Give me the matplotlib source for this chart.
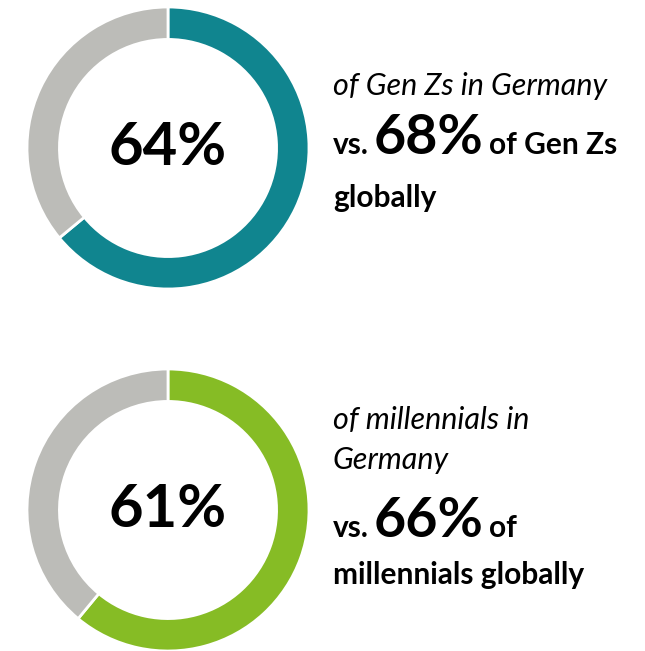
import matplotlib
matplotlib.use("Agg")
from matplotlib import pyplot as plt

W, H = 645, 651

# donut data (share in Germany, remainder)
groups = ["Gen Zs", "millennials"]
germany = [64, 61]
globally = [68, 66]
colors = ["#10858F", "#86BC25"]
rest_color = "#BCBCB8"

FONT = "Lato"


#converts pixel coords (y from top) to figure fraction
def px(x, y):
    return x / W, 1 - y / H


#places a run of text pieces one after another on a common baseline
def textRun(fig, x, y, pieces, gap=5):
    r = fig.canvas.get_renderer()
    for s, size, weight, style in pieces:
        t = fig.text(*px(x, y), s, fontsize=size, fontweight=weight, fontstyle=style,
                     family=FONT, ha="left", va="baseline")
        ext = t.get_window_extent(renderer=r)
        x = ext.x1 + gap


fig = plt.figure(figsize=(W / 100, H / 100), dpi=100)

# donut centres (pixels from top-left) and outer radius
centres = [(168, 148), (168, 510)]
R = 141

for i in range(2):
    cx, cy = centres[i]
    l, b = px(cx - R, cy + R)
    ax = fig.add_axes([l, b, 2 * R / W, 2 * R / H])
    ax.pie([germany[i], 100 - germany[i]], colors=[colors[i], rest_color],
           startangle=90, counterclock=False,
           wedgeprops=dict(width=0.23, edgecolor="white", linewidth=2))
    ax.set_xlim(-1.0, 1.0)
    ax.set_ylim(-1.0, 1.0)
    ax.set_aspect("equal")
    ax.axis("off")
    ax.text(0, 0, f"{germany[i]}%", ha="center", va="center", fontsize=43,
            fontweight="bold", family=FONT)

# right-hand captions
SM = 21.5
BIG = 40
textRun(fig, 333, 95, [("of Gen Zs in Germany", SM + 0.5, "normal", "italic")])
textRun(fig, 333, 154, [("vs.", SM, "bold", "normal"),
                        (f"{globally[0]}%", BIG, "bold", "normal"),
                        ("of Gen Zs", SM, "bold", "normal")])
textRun(fig, 333, 207, [("globally", SM, "bold", "normal")])

textRun(fig, 333, 429, [("of millennials in", SM + 0.5, "normal", "italic")])
textRun(fig, 333, 469, [("Germany", SM + 0.5, "normal", "italic")])
textRun(fig, 333, 537, [("vs.", SM, "bold", "normal"),
                        (f"{globally[1]}%", BIG, "bold", "normal"),
                        ("of", SM, "bold", "normal")])
textRun(fig, 333, 584, [("millennials globally", SM, "bold", "normal")])

fig.savefig("out.png", dpi=100)
